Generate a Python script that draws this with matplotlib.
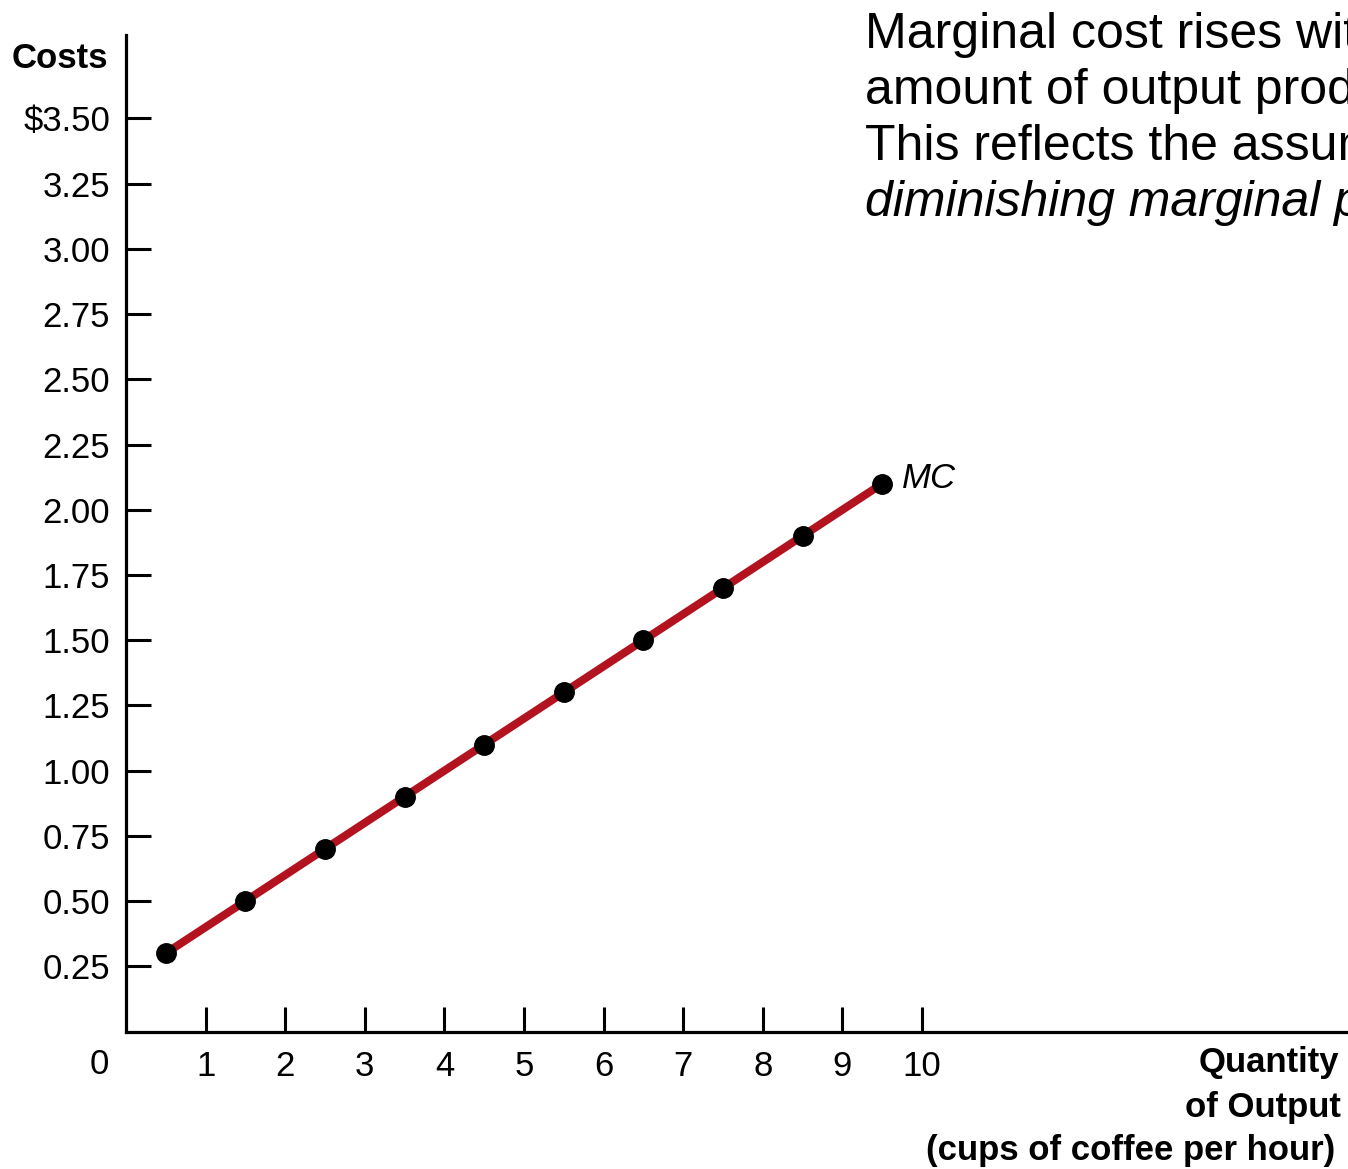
import matplotlib
matplotlib.use('Agg')
import matplotlib.pyplot as plt

# marginal cost per cup, plotted at the midpoint of each unit of output
quantity = [0.5, 1.5, 2.5, 3.5, 4.5, 5.5, 6.5, 7.5, 8.5, 9.5]
marginal_cost = [0.30, 0.50, 0.70, 0.90, 1.10, 1.30, 1.50, 1.70, 1.90, 2.10]

x_ticks = [1, 2, 3, 4, 5, 6, 7, 8, 9, 10]
y_ticks = [0.25, 0.50, 0.75, 1.00, 1.25, 1.50, 1.75, 2.00, 2.25, 2.50, 2.75, 3.00, 3.25, 3.50]
y_labels = ['0.25', '0.50', '0.75', '1.00', '1.25', '1.50', '1.75', '2.00',
            '2.25', '2.50', '2.75', '3.00', '3.25', '$3.50']

note_lines = ['Marginal cost rises with the', 'amount of output produced.',
              'This reflects the assumption of', 'diminishing marginal product.']
x_title_lines = ['Quantity', 'of Output', '(cups of coffee per hour)']

plt.rcParams['font.family'] = ['Liberation Sans', 'DejaVu Sans']

W, H = 1348, 1169
fig = plt.figure(figsize=(W / 100, H / 100), dpi=100)
ax = fig.add_axes([126 / W, 1 - 1031.5 / H, 1 - 126 / W, (1031.5 - 35) / H])
ax.set_xlim(0, 15.35)
ax.set_ylim(0, 3.82)

for side in ['top', 'right']:
    ax.spines[side].set_visible(False)
for side in ['left', 'bottom']:
    ax.spines[side].set_linewidth(2.3)

ax.set_xticks(x_ticks)
ax.set_xticklabels([str(t) for t in x_ticks])
ax.set_yticks(y_ticks)
ax.set_yticklabels(y_labels)
ax.tick_params(direction='in', length=18, width=2.2, labelsize=25, color='black')
ax.tick_params(axis='x', pad=13)
ax.tick_params(axis='y', pad=11.5)

# MC curve with points
ax.plot(quantity, marginal_cost, color='#b3121f', linewidth=5.8, zorder=2,
        solid_capstyle='butt')
ax.plot(quantity, marginal_cost, 'o', color='black', markersize=14, zorder=3)
ax.text(quantity[-1] + 0.25, marginal_cost[-1] + 0.02, 'MC', fontsize=25,
        style='italic', va='center', ha='left')

# origin label and axis titles
ax.text(-0.33, -0.125, '0', fontsize=25, ha='center', va='center', clip_on=False)
fig.text(108 / W, 1 - 68 / H, 'Costs', fontsize=25, fontweight='bold',
         ha='right', va='baseline')
for line, right, base in zip(x_title_lines, [1339, 1341, 1335], [1072, 1117, 1160]):
    fig.text(right / W, 1 - base / H, line, fontsize=25, fontweight='bold',
             ha='right', va='baseline')

# explanatory note, running off the right edge
for i, line in enumerate(note_lines):
    fig.text(865 / W, 1 - (48 + 56 * i) / H, line, fontsize=36,
             style='italic' if i == 3 else 'normal', ha='left', va='baseline')

fig.savefig('out.png', dpi=100)
